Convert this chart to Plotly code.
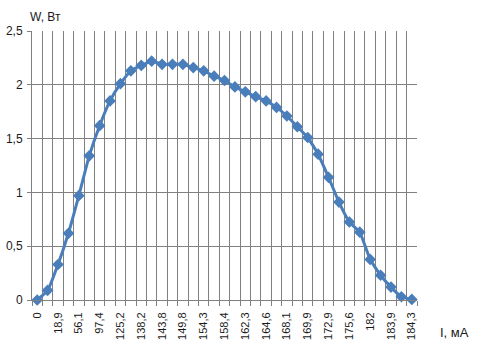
import plotly.graph_objects as go

# Current I, mA (labels shown on every second category)
I_labels = ["0", "18,9", "56,1", "97,4", "125,2", "138,2", "143,8", "149,8", "154,3",
            "158,4", "162,3", "164,6", "168,1", "169,9", "172,9", "175,6", "182",
            "183,9", "184,3"]

# Power W, Вт (37 points)
W_values = [0.0, 0.09, 0.33, 0.62, 0.97, 1.34, 1.62, 1.85, 2.01, 2.13, 2.18, 2.22,
            2.19, 2.19, 2.19, 2.16, 2.13, 2.08, 2.04, 1.98, 1.935, 1.89, 1.85, 1.79,
            1.71, 1.61, 1.51, 1.355, 1.14, 0.91, 0.725, 0.63, 0.377, 0.23, 0.12,
            0.03, 0.005]

x_idx = list(range(len(W_values)))
label_pos = [i * 2 for i in range(len(I_labels))]

grid_col = "#808080"
font = dict(family="Liberation Sans, Arial, sans-serif", size=11, color="#1a1a1a")

fig = go.Figure()
fig.add_trace(go.Scatter(
    x=x_idx, y=W_values, mode="lines+markers",
    line=dict(color="#4A7EBB", width=3, shape="spline", smoothing=0.4),
    marker=dict(symbol="diamond", size=9, color="#4A7EBB"),
    showlegend=False, cliponaxis=False,
))

fig.update_layout(
    width=477, height=353,
    margin=dict(l=32, r=60, t=31, b=53),
    paper_bgcolor="white", plot_bgcolor="white",
    font=font,
    xaxis=dict(
        automargin=False,
        range=[-0.5, len(W_values) - 0.5],
        tickmode="array", tickvals=label_pos, ticktext=I_labels,
        tickangle=-90, ticks="", showgrid=False, zeroline=False,
        showline=True, linecolor=grid_col, linewidth=1,
        ticklabelstandoff=7,
        minor=dict(tick0=-0.5, dtick=1, showgrid=True, gridcolor=grid_col,
                   gridwidth=1, ticks="outside", ticklen=5, tickcolor=grid_col),
    ),
    yaxis=dict(
        automargin=False,
        range=[0, 2.5],
        showgrid=True, gridcolor=grid_col, gridwidth=1,
        ticks="outside", ticklen=4, tickcolor=grid_col,
        showline=True, linecolor=grid_col, linewidth=1, zeroline=False,
        tickvals=[0, 0.5, 1, 1.5, 2, 2.5],
        ticktext=["0", "0,5", "1", "1,5", "2", "2,5"],
        tickfont=dict(size=12), ticklabelstandoff=2,
    ),
    annotations=[
        dict(text="W, Вт", xref="paper", yref="paper", x=0.0, y=1.0,
             xanchor="left", yanchor="bottom", xshift=-4, yshift=5,
             showarrow=False, font=dict(size=12, color="#1a1a1a")),
        dict(text="I, мА", xref="paper", yref="paper", x=1.0, y=0.0,
             xanchor="left", yanchor="top", xshift=21, yshift=-23,
             showarrow=False, font=dict(size=13, color="#1a1a1a")),
    ],
)

fig.write_html("out.html")
